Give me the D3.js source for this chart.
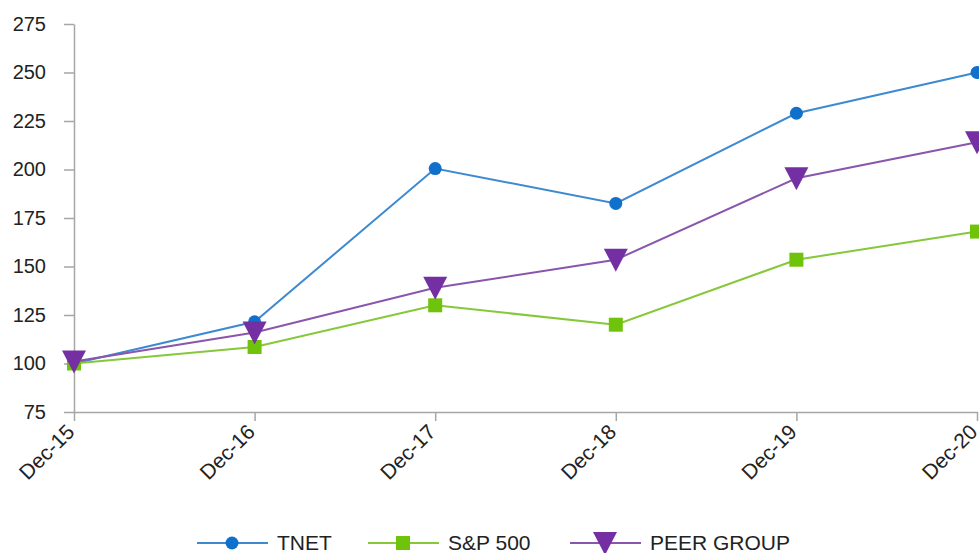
<!DOCTYPE html>
<html>
<head>
<meta charset="utf-8">
<script src="https://cdn.jsdelivr.net/npm/d3@7"></script>
<style>
	body { margin: 0; background: #fff; }
	svg { display: block; font-family: "Liberation Sans", Arial, sans-serif; }
	.axis path, .axis line { stroke: #a6a6a6; stroke-width: 1.5; }
	.axis text { fill: #222; font-size: 20px; font-family: "Liberation Sans", Arial, sans-serif; }
	.x-axis text { font-size: 21px; }
</style>
</head>
<body>
<svg id="chart" width="979" height="553"></svg>
<script>
var years = ["Dec-15", "Dec-16", "Dec-17", "Dec-18", "Dec-19", "Dec-20"];
var tnet = [100, 121.5, 200.5, 182.5, 229, 250];
var sp500 = [100, 108.5, 130, 120, 153.5, 168];
var peer = [101, 116, 139, 153.5, 195.5, 214];
var yTicks = [75, 100, 125, 150, 175, 200, 225, 250, 275];

var series = [
	{name: "TNET", values: tnet, line: "#3d8ad0", fill: "#1170cc", shape: "circle"},
	{name: "S&P 500", values: sp500, line: "#86c83a", fill: "#6fc30b", shape: "square"},
	{name: "PEER GROUP", values: peer, line: "#8a55ac", fill: "#7430a2", shape: "triangle"}
];

var svg = d3.select("#chart"),
	margin = {top: 24, left: 74, bottom: 141, right: 2},
	width = +svg.attr("width"),
	height = +svg.attr("height");

var x = d3.scalePoint()
	.domain(years)
	.range([margin.left, width - margin.right]);

var y = d3.scaleLinear()
	.domain([75, 275])
	.range([height - margin.bottom, margin.top]);

svg.append("g")
	.attr("class", "axis y-axis")
	.attr("transform", `translate(${margin.left},0)`)
	.call(d3.axisLeft(y).tickValues(yTicks).tickSize(10).tickPadding(18).tickSizeOuter(0));

svg.append("g")
	.attr("class", "axis x-axis")
	.attr("transform", `translate(0,${height - margin.bottom})`)
	.call(d3.axisBottom(x).tickSize(9).tickSizeOuter(0))
	.selectAll("text")
	.attr("text-anchor", "end")
	.attr("x", 0)
	.attr("y", 0)
	.attr("dy", "0.35em")
	.attr("transform", "translate(-4,16) rotate(-45)");

function marker(sel, shape, fill) {
	if (shape == "circle") {
		sel.append("circle").attr("r", 6.5).attr("fill", fill);
	} else if (shape == "square") {
		sel.append("rect").attr("x", -7).attr("y", -7).attr("width", 14).attr("height", 14).attr("fill", fill);
	} else {
		sel.append("path").attr("d", "M-12,-11L12,-11L0,12Z").attr("fill", fill);
	}
}

var line = d3.line()
	.x((d, i) => x(years[i]))
	.y(d => y(d));

series.forEach(function(s) {
	svg.append("path")
		.datum(s.values)
		.attr("fill", "none")
		.attr("stroke", s.line)
		.attr("stroke-width", 2)
		.attr("d", line);
});

series.forEach(function(s) {
	s.values.forEach(function(v, i) {
		var g = svg.append("g")
			.attr("transform", `translate(${x(years[i])},${y(v)})`);
		marker(g, s.shape, s.fill);
	});
});

// legend
var legendX = [197, 368, 570];
var legend = svg.append("g").attr("class", "legend");
series.forEach(function(s, i) {
	var g = legend.append("g").attr("transform", `translate(${legendX[i]},543)`);
	g.append("line").attr("x1", 0).attr("x2", 71).attr("stroke", s.line).attr("stroke-width", 2);
	var m = g.append("g").attr("transform", "translate(35,0)");
	marker(m, s.shape, s.fill);
	g.append("text")
		.attr("x", 80)
		.attr("dy", "0.35em")
		.style("font-size", "21px")
		.attr("fill", "#222")
		.text(s.name);
});
</script>
</body>
</html>
